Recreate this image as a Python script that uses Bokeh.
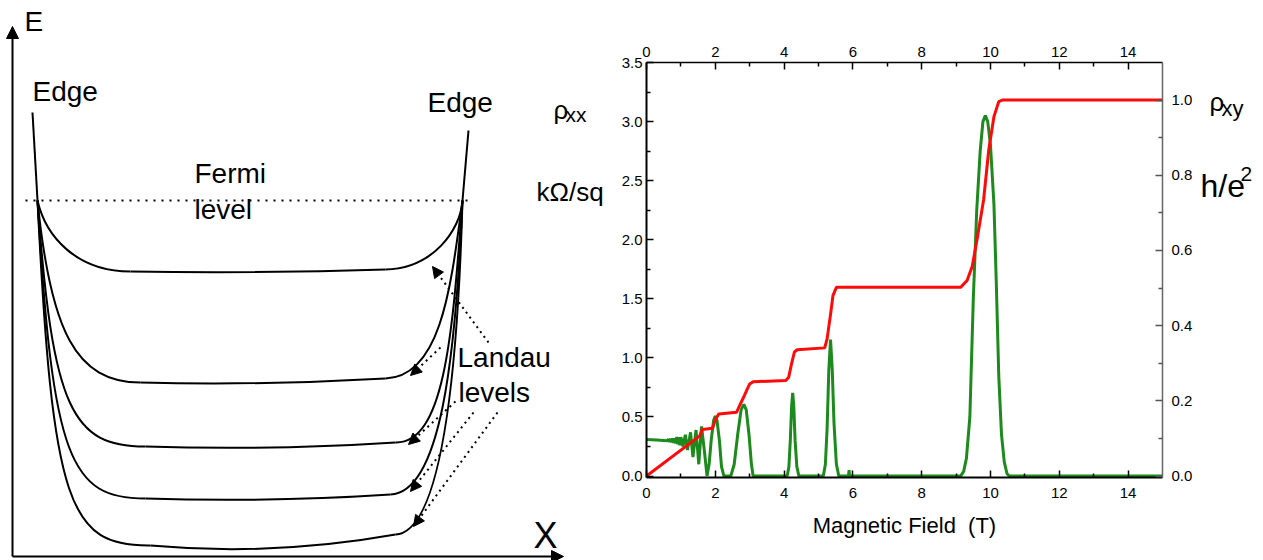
from bokeh.plotting import figure
from bokeh.layouts import row, column
from bokeh.models import (Range1d, LinearAxis, FixedTicker, Arrow, NormalHead,
                          ColumnDataSource, NumeralTickFormatter)
from bokeh.core.properties import value
from bokeh.embed import file_html
from bokeh.resources import INLINE

FONT = "Liberation Sans"

# ---------------- data of the right chart ----------------
field_xy = [0.0, 1.55, 1.62, 1.92, 2.00, 2.10, 2.62, 2.72, 2.85, 3.00, 3.10, 4.05, 4.13,
            4.22, 4.30, 4.38, 5.18, 5.25, 5.35, 5.42, 5.52, 9.13, 9.32, 9.47, 9.61,
            9.80, 9.95, 10.10, 10.24, 10.34, 15.0]
rho_xy = [0.0, 0.107, 0.124, 0.127, 0.150, 0.165, 0.170, 0.190, 0.215, 0.245, 0.251,
          0.254, 0.262, 0.300, 0.330, 0.336, 0.341, 0.365, 0.430, 0.480, 0.502, 0.502,
          0.520, 0.558, 0.630, 0.735, 0.868, 0.956, 0.996, 1.0, 1.0]

field_xx = [0.0, 0.30, 0.60, 0.64, 0.67, 0.70, 0.73, 0.76, 0.79, 0.82, 0.85, 0.88, 0.91,
            0.94, 0.97, 1.00, 1.06, 1.13, 1.19, 1.28, 1.35, 1.44, 1.52, 1.60, 1.68, 1.76,
            1.82, 1.88, 1.95, 2.00, 2.05, 2.12, 2.18, 2.25, 2.45, 2.55, 2.65, 2.75, 2.83,
            2.90, 2.98, 3.05, 3.10, 4.09, 4.14, 4.18, 4.22, 4.25, 4.28, 4.32, 4.37, 4.43,
            5.14, 5.20, 5.25, 5.30, 5.35, 5.40, 5.45, 5.52, 5.59, 5.87, 5.89, 5.91, 5.93,
            9.13, 9.22, 9.30, 9.40, 9.50, 9.60, 9.70, 9.78, 9.85, 9.92, 10.00, 10.10,
            10.17, 10.24, 10.32, 10.40, 10.48, 10.55, 15.0]
rho_xx = [0.31, 0.305, 0.30, 0.31, 0.29, 0.315, 0.285, 0.32, 0.28, 0.32, 0.275, 0.33, 0.27,
          0.33, 0.26, 0.33, 0.25, 0.35, 0.22, 0.37, 0.16, 0.39, 0.10, 0.42, 0.22, 0.0,
          0.10, 0.30, 0.47, 0.508, 0.47, 0.30, 0.08, 0.0, 0.0, 0.10, 0.35, 0.56, 0.607,
          0.56, 0.35, 0.10, 0.0, 0.0, 0.08, 0.30, 0.60, 0.705, 0.60, 0.30, 0.08, 0.0,
          0.0, 0.10, 0.40, 0.90, 1.155, 0.90, 0.45, 0.10, 0.0, 0.0, 0.05, -0.03, 0.0,
          0.0, 0.04, 0.15, 0.50, 1.50, 2.25, 2.75, 3.00, 3.05, 3.00, 2.80, 2.30,
          1.62, 0.85, 0.35, 0.12, 0.02, 0.0, 0.0]

x_ticks = [0, 2, 4, 6, 8, 10, 12, 14]
x_minor = [1, 3, 5, 7, 9, 11, 13]
left_ticks = [0.0, 0.5, 1.0, 1.5, 2.0, 2.5, 3.0, 3.5]
left_minor = [0.25, 0.75, 1.25, 1.75, 2.25, 2.75, 3.25]
right_ticks = [0.0, 0.2, 0.4, 0.6, 0.8, 1.0]
right_minor = [0.1, 0.3, 0.5, 0.7, 0.9]
x_label = "Magnetic Field \u00a0(T)"

# ---------------- schematic (left panel), page-pixel coordinates ----------------
left_curve_x0 = [37, 37, 37, 37, 37]
left_curve_y0 = [200, 200, 200, 200, 200]
left_curve_x1 = [130, 140, 145, 145, 150]
left_curve_y1 = [271, 382, 446, 498, 545]
left_curve_cx0 = [45, 50, 52, 52, 52]
left_curve_cy0 = [235, 330, 410, 460, 505]
left_curve_cx1 = [75, 75, 72, 70, 68]
left_curve_cy1 = [271, 382, 446, 498, 546]

right_curve_x0 = [385, 385, 395, 390, 395]
right_curve_y0 = [269, 378, 442, 494, 534]
right_curve_cx0 = [432, 440, 445, 440, 440]
right_curve_cy0 = [268, 376, 443, 492, 532]
right_curve_cx1 = [460, 450, 452, 455, 457]
right_curve_cy1 = [230, 290, 330, 360, 380]
right_curve_x1 = [462, 462, 462, 462, 462]
right_curve_y1 = [200, 200, 200, 200, 200]

mid_cx = [258, 262, 270, 268, 272]
mid_cy = [273, 385, 450, 502, 556]

H = 560
left = figure(width=610, height=H, x_range=Range1d(0, 610), y_range=Range1d(H, 0),
              output_backend="svg", toolbar_location=None, min_border=0,
              x_axis_location=None, y_axis_location=None, outline_line_color=None)
left.grid.visible = False

left.bezier(x0=left_curve_x0, y0=left_curve_y0, x1=left_curve_x1, y1=left_curve_y1,
            cx0=left_curve_cx0, cy0=left_curve_cy0, cx1=left_curve_cx1, cy1=left_curve_cy1,
            line_color="black", line_width=2)
left.bezier(x0=right_curve_x0, y0=right_curve_y0, x1=right_curve_x1, y1=right_curve_y1,
            cx0=right_curve_cx0, cy0=right_curve_cy0, cx1=right_curve_cx1, cy1=right_curve_cy1,
            line_color="black", line_width=2)
left.quadratic(x0=left_curve_x1, y0=left_curve_y1, x1=right_curve_x0, y1=right_curve_y0,
               cx=mid_cx, cy=mid_cy, line_color="black", line_width=2)
# edge walls
left.line([32, 37], [112, 200], line_color="black", line_width=2)
left.line([468, 462], [130, 200], line_color="black", line_width=2)
# Fermi level
left.line([25, 472], [200, 200], line_color="black", line_width=2, line_dash="2 6")

# axes arrows
left.add_layout(Arrow(end=NormalHead(size=12, fill_color="black", line_color="black"),
                      x_start=12, y_start=556, x_end=12, y_end=26, line_width=2))
left.add_layout(Arrow(end=NormalHead(size=12, fill_color="black", line_color="black"),
                      x_start=12, y_start=556, x_end=563, y_end=556, line_width=2))

# Landau level pointers
arr_start = [(488, 342), (440, 347), (455, 401), (473, 412), (497, 412)]
arr_end = [(432, 266), (410, 375), (408, 444), (410, 491), (413, 526)]
for (xs, ys), (xe, ye) in zip(arr_start, arr_end):
    left.add_layout(Arrow(end=NormalHead(size=11, fill_color="black", line_color="black"),
                          x_start=xs, y_start=ys, x_end=xe, y_end=ye,
                          line_width=2, line_dash="2 4"))

ltext = ColumnDataSource(dict(
    x=[24, 533, 32, 427, 194, 194, 457, 458, 553, 565, 536],
    y=[21, 535, 91, 102, 173, 209, 357, 392, 109, 114, 191],
    t=["E", "X", "Edge", "Edge", "Fermi", "level", "Landau", "levels", "ρ", "xx", "kΩ/sq"],
    s=["28px", "36px", "28px", "28px", "28px", "28px", "28px", "28px", "26px", "21px", "26px"],
))
left.text(x="x", y="y", text="t", text_font_size="s", source=ltext,
          text_font=value(FONT), text_color="black",
          text_align="left", text_baseline="alphabetic")

# ---------------- right chart ----------------
k = 1.1 / 3.5
y0 = -0.012
mid = figure(width=588, height=H, x_range=Range1d(0, 15), y_range=Range1d(y0, 3.5),
             output_backend="svg", toolbar_location=None,
             min_border_left=36, min_border_right=36, min_border_top=62, min_border_bottom=83,
             outline_line_color=None)
mid.grid.visible = False
mid.extra_y_ranges = {"r": Range1d(y0 * k, 1.1)}
bottom_axis = mid.below[0]
left_axis = mid.left[0]

mid.line(field_xx, rho_xx, line_color="#1c8a1c", line_width=3)
mid.line(field_xy, rho_xy, y_range_name="r", line_color="#ff0a0a", line_width=3)

top_axis = LinearAxis()
mid.add_layout(top_axis, "above")
right_axis = LinearAxis(y_range_name="r")
mid.add_layout(right_axis, "right")

bottom_axis.ticker = FixedTicker(ticks=x_ticks, minor_ticks=x_minor)
top_axis.ticker = FixedTicker(ticks=x_ticks, minor_ticks=x_minor)
left_axis.ticker = FixedTicker(ticks=left_ticks, minor_ticks=left_minor)
left_axis.formatter = NumeralTickFormatter(format="0.0")
right_axis.ticker = FixedTicker(ticks=right_ticks, minor_ticks=right_minor)
right_axis.formatter = NumeralTickFormatter(format="0.0")

for ax in [bottom_axis, top_axis, left_axis, right_axis]:
    ax.major_tick_in = 7
    ax.major_tick_out = 0
    ax.minor_tick_in = 4
    ax.minor_tick_out = 0
    ax.major_label_text_font = FONT
    ax.major_label_text_font_size = "15px"
    ax.major_label_text_color = "black"
    ax.axis_line_color = "black"
    ax.major_tick_line_color = "black"
    ax.minor_tick_line_color = "black"
    ax.major_tick_line_width = 1.5
    ax.minor_tick_line_width = 1.5

bottom_axis.axis_line_width = 2
left_axis.axis_line_width = 2
top_axis.axis_line_width = 1.5
right_axis.axis_line_width = 1.5
right_axis.axis_line_color = "#666666"
right_axis.major_tick_line_color = "#555555"
right_axis.minor_tick_line_color = "#555555"

bottom_axis.major_label_standoff = 10
top_axis.major_label_standoff = 6
left_axis.major_label_standoff = 4
right_axis.major_label_standoff = 9

bottom_axis.axis_label = x_label
bottom_axis.axis_label_text_font = FONT
bottom_axis.axis_label_text_font_size = "22px"
bottom_axis.axis_label_text_font_style = "normal"
bottom_axis.axis_label_text_color = "black"
bottom_axis.axis_label_standoff = 12

# ---------------- right-hand labels ----------------
rfig = figure(width=65, height=H, x_range=Range1d(1198, 1263), y_range=Range1d(H, 0),
              output_backend="svg", toolbar_location=None, min_border=0,
              x_axis_location=None, y_axis_location=None, outline_line_color=None)
rfig.grid.visible = False
rtext = ColumnDataSource(dict(
    x=[1209, 1221, 1200, 1240],
    y=[101, 108, 185, 173],
    t=["ρ", "xy", "h/e", "2"],
    s=["26px", "22px", "32px", "21px"],
))
rfig.text(x="x", y="y", text="t", text_font_size="s", source=rtext,
          text_font=value(FONT), text_color="black",
          text_align="left", text_baseline="alphabetic")

layout = row(column(left), column(mid), column(rfig))
open("out.html", "w").write(file_html(layout, INLINE))
